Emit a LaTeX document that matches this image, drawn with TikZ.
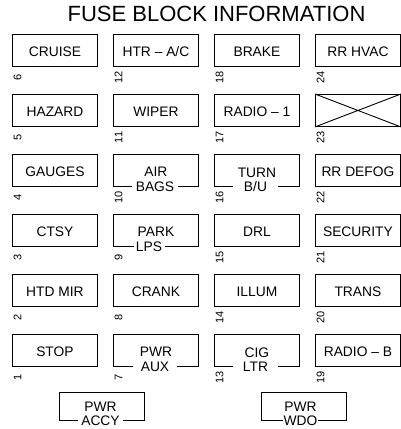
\documentclass[tikz,border=0pt]{standalone}
\usepackage{fontspec}
\setmainfont{Liberation Sans}
\begin{document}
\begin{tikzpicture}[x=1pt,y=-1pt,
  fuse/.style={draw=black,line width=0.9pt,minimum width=85pt,minimum height=32pt,inner sep=0pt,anchor=north west},
  lbl/.style={inner sep=0pt,font=\fontsize{13.8}{16}\selectfont,text height=9.8pt,text depth=0pt},
  gap/.style={fill=white,inner sep=0pt,minimum height=11pt,font=\fontsize{13.8}{16}\selectfont,text height=9.8pt,text depth=0pt},
  num/.style={inner sep=0pt,rotate=90,font=\fontsize{11}{12}\selectfont,text height=7.8pt,text depth=0pt},
  title/.style={inner sep=0pt,anchor=base,font=\fontsize{22}{26}\selectfont}]
\useasboundingbox (0,0) rectangle (401,429);
\clip (0,0) rectangle (401,429);
\node[title] (t) at (216.5,21.5) {FUSE BLOCK INFORMATION};
% column 1
\node[fuse] (f6) at (12,34) {}; \node[lbl] at ([yshift=-1pt]f6.center) {CRUISE};
\node[fuse] (f5) at (12,94) {}; \node[lbl] at ([yshift=-1pt]f5.center) {HAZARD};
\node[fuse] (f4) at (12,154) {}; \node[lbl] at ([yshift=-1pt]f4.center) {GAUGES};
\node[fuse] (f3) at (12,214) {}; \node[lbl] at ([yshift=-1pt]f3.center) {CTSY};
\node[fuse] (f2) at (12,274) {}; \node[lbl] at ([yshift=-1pt]f2.center) {HTD MIR};
\node[fuse] (f1) at (12,334) {}; \node[lbl] at ([yshift=-1pt]f1.center) {STOP};
% column 2
\node[fuse] (f12) at (113,34) {}; \node[lbl] at ([yshift=-1pt]f12.center) {HTR – A/C};
\node[fuse] (f11) at (113,94) {}; \node[lbl] at ([yshift=-1pt]f11.center) {WIPER};
\node[fuse] (f10) at (113,154) {}; \node[lbl] at ([yshift=-1pt]f10.center) {AIR};
\node[gap,minimum width=46pt] at (155,187) {BAGS};
\node[fuse] (f9) at (113,214) {}; \node[lbl] at ([yshift=-1pt]f9.center) {PARK};
\node[gap,minimum width=31pt] at (149,247) {LPS};
\node[fuse] (f8) at (113,274) {}; \node[lbl] at ([yshift=-1pt]f8.center) {CRANK};
\node[fuse] (f7) at (113,334) {}; \node[lbl] at ([yshift=-1pt]f7.center) {PWR};
\node[gap,minimum width=44pt] at (155,367) {AUX};
% column 3
\node[fuse] (f18) at (214,34) {}; \node[lbl] at ([yshift=-1pt]f18.center) {BRAKE};
\node[fuse] (f17) at (214,94) {}; \node[lbl] at ([yshift=-1pt]f17.center) {RADIO – 1};
\node[fuse] (f16) at (214,154) {}; \node[lbl] at ([yshift=-2pt]f16.center) {TURN};
\node[gap,minimum width=45pt] at (255.5,187) {B/U};
\node[fuse] (f15) at (214,214) {}; \node[lbl] at ([yshift=-1pt]f15.center) {DRL};
\node[fuse] (f14) at (214,274) {}; \node[lbl] at ([yshift=-1pt]f14.center) {ILLUM};
\node[fuse] (f13) at (214,334) {}; \node[lbl] at ([yshift=-2pt]f13.center) {CIG};
\node[gap,minimum width=45pt] at (255.5,367) {LTR};
% column 4
\node[fuse] (f24) at (315,34) {}; \node[lbl] at ([yshift=-1pt]f24.center) {RR HVAC};
\node[fuse] (f23) at (315,94) {};
\draw[line width=0.9pt] (f23.north west) -- (f23.south east) (f23.south west) -- (f23.north east);
\node[fuse] (f22) at (315,154) {}; \node[lbl] at ([yshift=-1pt]f22.center) {RR DEFOG};
\node[fuse] (f21) at (315,214) {}; \node[lbl] at ([yshift=-1pt]f21.center) {SECURITY};
\node[fuse] (f20) at (315,274) {}; \node[lbl] at ([yshift=-1pt]f20.center) {TRANS};
\node[fuse] (f19) at (315,334) {}; \node[lbl] at ([yshift=-1pt]f19.center) {RADIO – B};
% bottom row
\node[fuse,minimum height=28pt] (accy) at (59,392) {}; \node[lbl] at (100.5,406.5) {PWR};
\node[gap,minimum width=45pt] at (100.5,421) {ACCY};
\node[fuse,minimum height=28pt] (wdo) at (261,392) {}; \node[lbl] at (300.5,406.5) {PWR};
\node[gap,minimum width=35pt] at (300.5,421) {WDO};
% numbers
\foreach \n in {1,...,24}{
  \node[num] at ([xshift=5.5pt,yshift=-10.5pt]f\n.south west) {\n};
}
\end{tikzpicture}
\end{document}
